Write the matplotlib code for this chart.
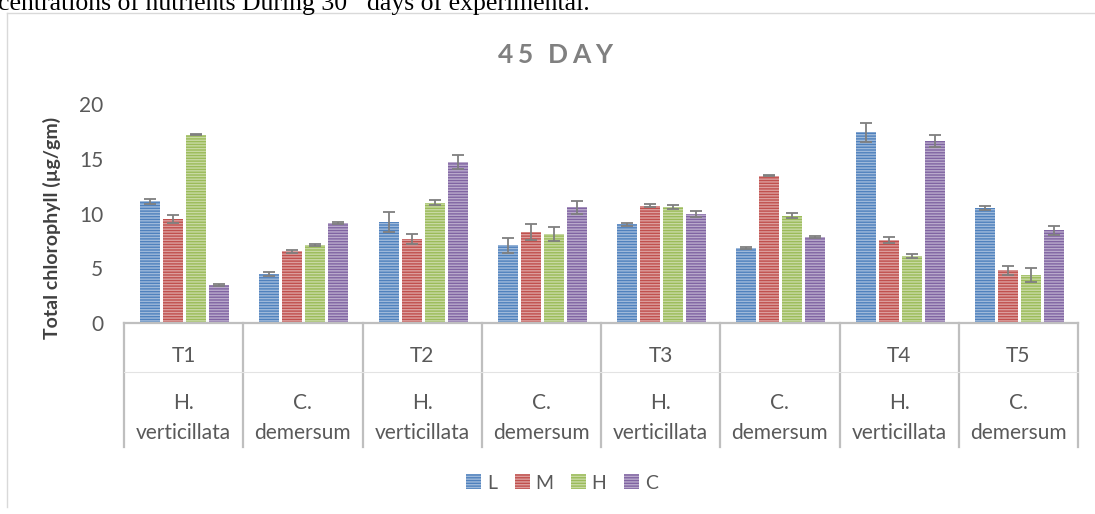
import matplotlib.pyplot as plt
import matplotlib.transforms as mtransforms
from matplotlib.lines import Line2D
from matplotlib.patches import Patch
import numpy as np

plt.rcParams['font.family'] = ['Lato', 'DejaVu Sans']
plt.rcParams['hatch.linewidth'] = 1.0

# data
treatments = ['T1', '', 'T2', '', 'T3', '', 'T4', 'T5']
species = ['H.\nverticillata', 'C.\ndemersum'] * 4
series = ['L', 'M', 'H', 'C']
L = [11.1, 4.5, 9.2, 7.1, 9.0, 6.85, 17.4, 10.5]
M = [9.5, 6.55, 7.65, 8.3, 10.7, 13.45, 7.6, 4.8]
H = [17.2, 7.1, 11.0, 8.15, 10.6, 9.8, 6.1, 4.35]
C = [3.45, 9.15, 14.7, 10.55, 9.95, 7.85, 16.65, 8.45]
L_err = [0.2, 0.2, 0.9, 0.7, 0.15, 0.1, 0.9, 0.2]
M_err = [0.4, 0.15, 0.45, 0.7, 0.15, 0.05, 0.25, 0.45]
H_err = [0.05, 0.1, 0.25, 0.65, 0.2, 0.25, 0.2, 0.65]
C_err = [0.1, 0.1, 0.6, 0.6, 0.25, 0.1, 0.55, 0.4]
colors = ['#4F81BD', '#C0504D', '#9BBB59', '#8064A2']
title = '45 DAY'

W, Hpx = 1095, 514
fig = plt.figure(figsize=(W / 100, Hpx / 100), dpi=100)
renderer = fig.canvas.get_renderer()

def fy(py):
    return 1 - py / Hpx

ax = fig.add_axes([124 / W, fy(323), (1078 - 124) / W, (323 - 104) / Hpx])

x = np.arange(len(species))
vals = [L, M, H, C]
errs = [L_err, M_err, H_err, C_err]
step, width = 0.193, 0.168
for i in range(4):
    xs = x + (i - 1.5) * step + 0.008
    ax.bar(xs, vals[i], width, color=colors[i], edgecolor=(1, 1, 1, 0.45),
           linewidth=0, hatch='------', label=series[i], zorder=2)
    ax.errorbar(xs, vals[i], yerr=errs[i], fmt='none', ecolor='#7f7f7f',
                elinewidth=1.3, capsize=4, capthick=1.3, zorder=3, clip_on=False)

ax.set_xlim(-0.5, 7.5)
ax.set_ylim(0, 20)
ax.set_yticks([0, 5, 10, 15, 20])
ax.set_xticks([])
ax.tick_params(axis='y', length=0, pad=15, labelsize=15, labelcolor='#595959')
for s in ['left', 'top', 'right']:
    ax.spines[s].set_visible(False)
ax.spines['bottom'].set_color('#bfbfbf')
ax.spines['bottom'].set_linewidth(1.6)

# multi-level category axis
blend = mtransforms.blended_transform_factory(ax.transData, fig.transFigure)
for b in np.arange(-0.5, 8.0, 1.0):
    ax.plot([b, b], [fy(323), fy(447)], color='#bfbfbf', lw=1.6,
            transform=blend, clip_on=False)
ax.plot([-0.5, 7.5], [fy(372), fy(372)], color='#e3e3e3', lw=0.8,
        transform=blend, clip_on=False)
for i in range(len(species)):
    ax.text(x[i], fy(356), treatments[i], transform=blend, ha='center',
            va='center', fontsize=15, color='#595959')
    ax.text(x[i], fy(418), species[i], transform=blend, ha='center',
            va='center', fontsize=15, color='#595959', linespacing=1.6)

fig.text(52 / W, fy(228), 'Total chlorophyll (µg/gm)', rotation=90,
         ha='center', va='center', fontsize=14, fontweight='bold',
         color='#404040')

# title with wide letter spacing
parts = [fig.text(0, fy(55), ch, ha='left', va='center', fontsize=19,
                  fontweight='bold', color='#808080') for ch in title]
widths = [p.get_window_extent(renderer).width for p in parts]
extra = (114 - sum(widths)) / (len(title) - 1)
pos = 498
for p, w in zip(parts, widths):
    p.set_x(pos / W)
    pos += w + extra

# chart frame and the document text above it
fig.add_artist(Line2D([7 / W, 7 / W], [fy(13), fy(507)], color='#d9d9d9', lw=1))
fig.add_artist(Line2D([7 / W, 1], [fy(13), fy(13)], color='#d9d9d9', lw=1))
t1 = fig.text(-2 / W, fy(10), 'centrations of nutrients During 30', fontsize=18.5,
              family=['Liberation Serif'], ha='left', va='baseline')
right = t1.get_window_extent(renderer).x1
fig.text((right + 20) / W, fy(10), 'days of experimental.', fontsize=18.5,
         family=['Liberation Serif'], ha='left', va='baseline')

handles = [Patch(facecolor=colors[i], edgecolor=(1, 1, 1, 0.45), linewidth=0,
                 hatch='------', label=series[i]) for i in range(4)]
fig.legend(handles=handles, loc='center', bbox_to_anchor=(562 / W, fy(483)),
           ncol=4, frameon=False, fontsize=14, labelcolor='#595959',
           handlelength=0.77, handleheight=0.77, handletextpad=0.3,
           columnspacing=0.9)

fig.savefig('out.png', dpi=100)
